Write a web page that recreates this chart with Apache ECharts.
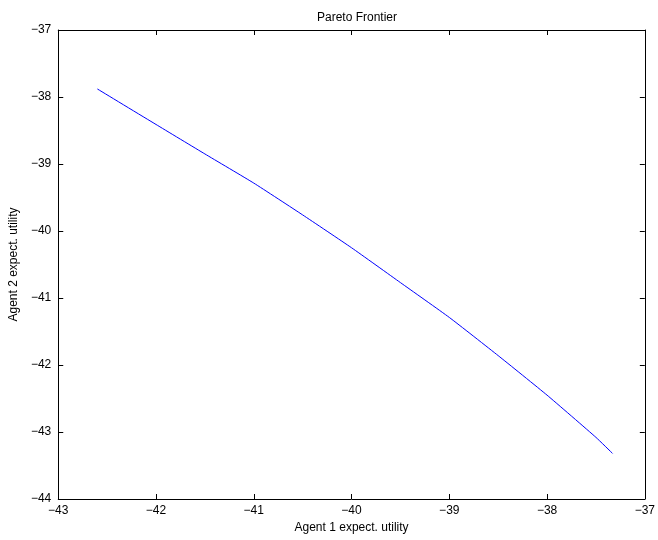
<!DOCTYPE html>
<html>
<head>
<meta charset="utf-8">
<script src="https://cdn.jsdelivr.net/npm/echarts@6/dist/echarts.min.js"></script>
<style>html,body{margin:0;padding:0;background:#fff;}#c{width:658px;height:540px;}</style>
</head>
<body>
<div id="c"></div>
<script>
const titleText = 'Pareto Frontier';
const xName = 'Agent 1 expect. utility';
const yName = 'Agent 2 expect. utility';
const agent1 = [-42.60, -42.00, -41.50, -41.00, -40.50, -40.00, -39.50, -39.00, -38.50, -38.00, -37.50, -37.33];
const agent2 = [-37.88, -38.41, -38.85, -39.285, -39.76, -40.25, -40.77, -41.29, -41.86, -42.45, -43.08, -43.32];
const xRange = [-43, -37];
const yRange = [-44, -37];

const FONT = 'Liberation Sans, Arial, Helvetica, sans-serif';
const fmt = v => String(v).replace('-', '\u2212');
const chart = echarts.init(document.getElementById('c'), null, {renderer: 'canvas'});
const axisCommon = {
  type: 'value',
  interval: 1,
  splitLine: {show: false},
  axisLine: {show: true, onZero: false, lineStyle: {color: '#000', width: 1}},
  axisTick: {show: true, inside: true, length: 5, lineStyle: {color: '#000', width: 1}},
  axisLabel: {color: '#000', fontFamily: FONT, fontSize: 12, formatter: fmt}
};
chart.setOption({
  animation: false,
  backgroundColor: '#fff',
  title: {text: titleText, left: 312, top: 7, textStyle: {fontFamily: FONT, fontSize: 12, fontWeight: 'normal', color: '#000'}},
  grid: {left: 57, right: 5, top: 30, bottom: 41},
  xAxis: [
    Object.assign({}, axisCommon, {min: xRange[0], max: xRange[1], position: 'bottom',
      axisLabel: Object.assign({}, axisCommon.axisLabel, {margin: 6}),
      name: xName, nameLocation: 'middle', nameGap: 22,
      nameTextStyle: {fontFamily: FONT, fontSize: 12, color: '#000'}}),
    Object.assign({}, axisCommon, {min: xRange[0], max: xRange[1], position: 'top',
      axisLabel: {show: false}})
  ],
  yAxis: [
    Object.assign({}, axisCommon, {min: yRange[0], max: yRange[1], position: 'left',
      axisLabel: Object.assign({}, axisCommon.axisLabel, {margin: 7}),
      name: yName, nameLocation: 'middle', nameGap: 35,
      nameTextStyle: {fontFamily: FONT, fontSize: 12, color: '#000'}}),
    Object.assign({}, axisCommon, {min: yRange[0], max: yRange[1], position: 'right',
      axisLabel: {show: false}})
  ],
  series: [{
    type: 'line',
    xAxisIndex: 0, yAxisIndex: 0,
    data: agent1.map((x, i) => [x, agent2[i]]),
    showSymbol: false,
    symbol: 'none',
    lineStyle: {color: '#0000ff', width: 1},
    smooth: 0.15
  }]
});
</script>
</body>
</html>
